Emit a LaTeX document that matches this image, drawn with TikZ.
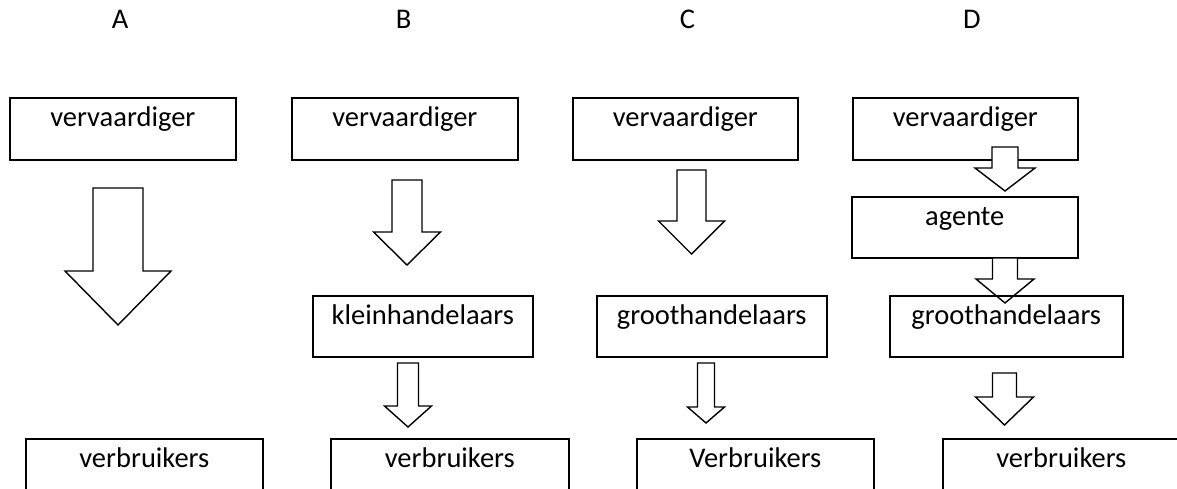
\documentclass[tikz,border=0pt]{standalone}
\usepackage{fontspec}
\setmainfont{Carlito}
\tikzset{
  every node/.style={font=\fontsize{28.5}{30}\selectfont},
  box/.style={draw, line width=1.6pt, anchor=north west, inner xsep=0pt, inner ysep=0pt,
              text height=29pt, text depth={#1-29pt}},
  letter/.style={anchor=base, inner sep=0pt},
  barr/.style={draw, fill=white, line width=1.4pt, line join=miter}
}
\newcommand\blockarrow[6]{%
  \draw[barr] ({#1-#2},#4) -- ({#1+#2},#4) -- ({#1+#2},#5) -- ({#1+#3},#5) -- (#1,#6)
    -- ({#1-#3},#5) -- ({#1-#2},#5) -- cycle;}
\begin{document}
\begin{tikzpicture}[x=1pt,y=-1pt]
\useasboundingbox (0,0) rectangle (1177,488);
\clip (0,0) rectangle (1177,488);
\fill[white] (0,0) rectangle (1177,488);
% column letters
\node[letter] (la) at (120,28) {A};
\node[letter] (lb) at (403.5,28) {B};
\node[letter] (lc) at (687.5,28) {C};
\node[letter] (ld) at (972,28) {D};
% column A
\node[box=62pt, minimum width=226pt] (a1) at (9,97) {vervaardiger};
\node[box=60pt, minimum width=237pt] (a2) at (25,438) {verbruikers};
% column B
\node[box=62pt, minimum width=226pt] (b1) at (291,97) {vervaardiger};
\node[box=61pt, minimum width=220pt] (b2) at (312,295) {kleinhandelaars};
\node[box=60pt, minimum width=238pt] (b3) at (330,438) {verbruikers};
% column C
\node[box=62pt, minimum width=225pt] (c1) at (572,97) {vervaardiger};
\node[box=61pt, minimum width=230pt] (c2) at (596,295) {groothandelaars};
\node[box=60pt, minimum width=237pt] (c3) at (636,438) {Verbruikers};
% column D
\node[box=62pt, minimum width=225pt] (d1) at (852,97) {vervaardiger};
\node[box=61pt, minimum width=226pt] (d2) at (851,196) {agente};
\node[box=60pt, minimum width=237pt] (d4) at (942,438) {verbruikers};
% block arrows
\blockarrow{118}{25}{53}{188}{271}{325}
\blockarrow{407}{15}{33.5}{180}{232}{265}
\blockarrow{408}{10.5}{23.5}{363}{406}{427}
\blockarrow{691.5}{14.5}{33}{170}{221}{254}
\blockarrow{706}{8.5}{18.5}{363}{407}{423}
\blockarrow{1005}{13}{30}{147}{168}{191}
\blockarrow{1005}{12.5}{29}{258}{279}{303}
\blockarrow{1004.5}{12}{29}{373}{397}{425}
% box drawn over the arrow tip
\node[box=61pt, minimum width=233pt] (d3) at (889,295) {groothandelaars};
\end{tikzpicture}
\end{document}
